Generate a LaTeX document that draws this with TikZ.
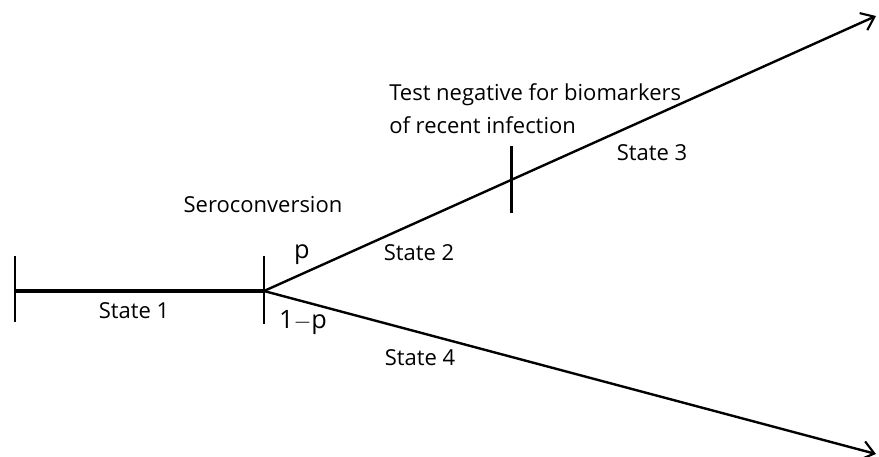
\documentclass[tikz,border=0pt]{standalone}
\usepackage{fontspec}
\setmainfont{Open Sans}
\usetikzlibrary{arrows.meta,calc}
\tikzset{
  lbl/.style={font=\fontsize{16.5}{25}\selectfont, inner sep=0pt},
  prob/.style={font=\fontsize{19}{22}\selectfont, inner sep=0pt},
  tick/.style={line width=2.2pt},
  branch/.style={line width=1.8pt, -{Straight Barb[length=9pt,width=14pt,line width=1.6pt]}}
}
\begin{document}
\begin{tikzpicture}[x=0.75pt, y=-0.75pt]
\useasboundingbox (0,0) rectangle (879,457);
% points on the time line
\coordinate (start) at (15,291);
\coordinate (sero) at (264,291);
\coordinate (upend) at (876,16);
\coordinate (lowend) at (876,454);
\coordinate (test) at ($(sero)!0.405!(upend)$);
% ticks
\draw[tick] ($(start)+(0,-35)$) -- ($(start)+(0,31)$);
\draw[tick] ($(sero)+(0,-35)$) -- ($(sero)+(0,33)$);
\draw[tick] ($(test)+(0,-34)$) -- ($(test)+(0,33)$);
% lines
\draw[line width=3pt] (start) -- (sero);
\draw[branch] (sero) -- (upend);
\draw[branch] (sero) -- (lowend);
% labels
\node[lbl] (s1) at (134,311) {State 1};
\node[lbl] (serolbl) at (263,205) {Seroconversion};
\node[prob] (p) at (302,255) {p};
\node[prob] (q) at (303,322) {1$-$p};
\node[lbl] (s2) at (419,253) {State 2};
\node[lbl] (s3) at (652,153) {State 3};
\node[lbl] (s4) at (420,358) {State 4};
\node[lbl, anchor=west, align=left] (neg) at (389,109) {Test negative for biomarkers\\of recent infection};
\end{tikzpicture}
\end{document}
